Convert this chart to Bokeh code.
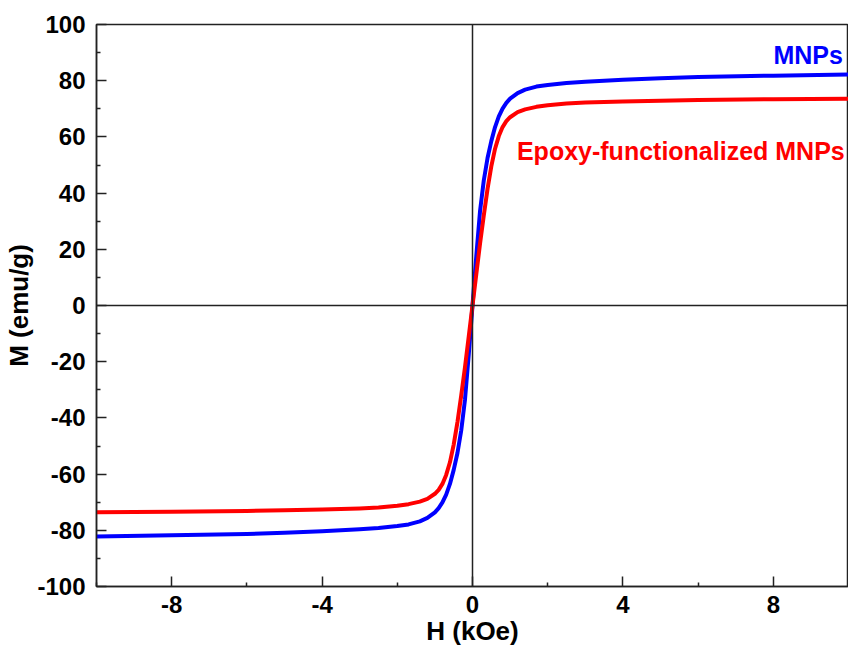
from bokeh.plotting import figure
from bokeh.models import FixedTicker, Span, Label, Range1d, CustomJSTickFormatter
from bokeh.embed import file_html
from bokeh.resources import INLINE

# ---- data ----
H_mnp = [-10, -8, -6, -5, -4, -3, -2.5, -2.0, -1.7, -1.4, -1.2, -1.0, -0.9, -0.8, -0.7, -0.6, -0.5, -0.4,
         -0.3, -0.2, -0.1, 0,
         0.1, 0.2, 0.3, 0.4, 0.5, 0.6, 0.7, 0.8, 0.9, 1.0, 1.2, 1.4, 1.7, 2.0, 2.5, 3, 4, 5, 6, 8, 10]
M_mnp = [-82.2, -81.8, -81.3, -80.9, -80.3, -79.6, -79.2, -78.5, -77.9, -76.8, -75.6, -73.6, -72.1, -70.1, -67.3,
         -63.5, -58.5, -52.5, -44.5, -33.5, -17.5, 0,
         17.5, 33.5, 44.5, 52.5, 58.5, 63.5, 67.3, 70.1, 72.1, 73.6, 75.6, 76.8, 77.9, 78.5, 79.2, 79.6, 80.3,
         80.9, 81.3, 81.8, 82.2]

H_epoxy = [-10, -8, -6, -5, -4, -3, -2.5, -2.0, -1.7, -1.4, -1.2, -1.0, -0.9, -0.8, -0.7, -0.6, -0.5, -0.4,
           -0.3, -0.2, -0.1, 0,
           0.1, 0.2, 0.3, 0.4, 0.5, 0.6, 0.7, 0.8, 0.9, 1.0, 1.2, 1.4, 1.7, 2.0, 2.5, 3, 4, 5, 6, 8, 10]
M_epoxy = [-73.6, -73.4, -73.1, -72.9, -72.6, -72.2, -71.9, -71.3, -70.7, -69.8, -68.8, -67.0, -65.6, -63.5, -60.3,
           -55.8, -49.5, -41.5, -32.0, -22.0, -11.0, 0,
           11.0, 22.0, 32.0, 41.5, 49.5, 55.8, 60.3, 63.5, 65.6, 67.0, 68.8, 69.8, 70.7, 71.3, 71.9, 72.2, 72.6,
           72.9, 73.1, 73.4, 73.6]

x_major = [-8, -4, 0, 4, 8]
x_minor = [-10, -6, -2, 2, 6, 10]
y_major = [-100, -80, -60, -40, -20, 0, 20, 40, 60, 80, 100]
y_minor = [-90, -70, -50, -30, -10, 10, 30, 50, 70, 90]

FONT = "Liberation Sans"

p = figure(width=848, height=649, output_backend="svg", toolbar_location=None,
           x_range=Range1d(-10, 10), y_range=Range1d(-100, 100),
           min_border_left=96, min_border_right=0, min_border_top=24, min_border_bottom=63)
p.grid.visible = False
p.background_fill_color = "white"
p.border_fill_color = "white"
p.outline_line_color = "#222222"
p.outline_line_width = 1.5

p.line(H_mnp, M_mnp, line_color="#0000FF", line_width=4, line_join="round")
p.line(H_epoxy, M_epoxy, line_color="#FF0000", line_width=4, line_join="round")

p.add_layout(Span(location=0, dimension="height", line_color="#222222", line_width=1.5))
p.add_layout(Span(location=0, dimension="width", line_color="#222222", line_width=1.5))

p.xaxis.ticker = FixedTicker(ticks=x_major, minor_ticks=x_minor)
p.yaxis.ticker = FixedTicker(ticks=y_major, minor_ticks=y_minor)

for ax in (p.xaxis[0], p.yaxis[0]):
    ax.formatter = CustomJSTickFormatter(code="return tick.toString();")
    ax.axis_line_color = "#222222"
    ax.axis_line_width = 1.5
    ax.major_tick_line_color = "#222222"
    ax.minor_tick_line_color = "#222222"
    ax.major_tick_line_width = 1.5
    ax.minor_tick_line_width = 1.5
    ax.major_tick_in = 10
    ax.major_tick_out = 0
    ax.minor_tick_in = 4
    ax.minor_tick_out = 0
    ax.major_label_text_font = FONT
    ax.major_label_text_font_style = "bold"
    ax.major_label_text_font_size = "24px"
    ax.major_label_text_color = "black"
    ax.axis_label_text_font = FONT
    ax.axis_label_text_font_style = "bold"
    ax.axis_label_text_font_size = "26px"
    ax.axis_label_text_color = "black"

p.xaxis.axis_label = "H (kOe)"
p.yaxis.axis_label = "M (emu/g)"
p.xaxis.major_label_standoff = 9
p.xaxis.axis_label_standoff = 0
p.yaxis.major_label_standoff = 11
p.yaxis.axis_label_standoff = 0

p.add_layout(Label(x=9.85, y=89, text="MNPs", text_color="#0000FF",
                   text_font=FONT, text_font_style="bold", text_font_size="25px",
                   text_align="right", text_baseline="middle"))
p.add_layout(Label(x=9.9, y=55, text="Epoxy-functionalized MNPs", text_color="#FF0000",
                   text_font=FONT, text_font_style="bold", text_font_size="25px",
                   text_align="right", text_baseline="middle"))

open("out.html", "w").write(file_html(p, INLINE))
